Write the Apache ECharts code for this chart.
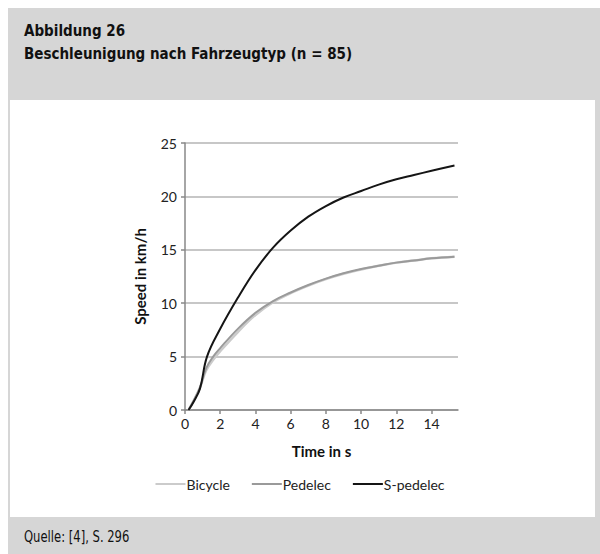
<!DOCTYPE html>
<html>
<head>
<meta charset="utf-8">
<script src="https://cdn.jsdelivr.net/npm/echarts@6/dist/echarts.min.js"></script>
<style>
  html, body { margin: 0; padding: 0; background: #fff; }
  #main { width: 600px; height: 554px; }
</style>
</head>
<body>
<div id="main"></div>
<script>
// Zeitpunkte (s) und Geschwindigkeiten (km/h)
var timeSlow = [0.2, 0.5, 0.85, 1.2, 1.6, 2, 3, 4, 5, 6, 7, 8, 9, 10, 11, 12, 13, 14, 15.3];
var bicycle  = [0, 0.9, 2.1, 3.7, 4.7, 5.5, 7.3, 8.9, 10.1, 10.95, 11.65, 12.25, 12.75, 13.15, 13.5, 13.8, 14.0, 14.2, 14.35];
var pedelec  = [0, 0.9, 2.1, 3.9, 5.0, 5.8, 7.6, 9.1, 10.2, 11.0, 11.7, 12.3, 12.8, 13.2, 13.5, 13.8, 14.0, 14.2, 14.35];
var timeFast = [0.2, 0.5, 0.85, 1.25, 2, 3, 4, 5, 6, 7, 8, 9, 10, 11, 12, 13, 14, 15.3];
var sPedelec = [0, 0.8, 2.0, 5.0, 7.6, 10.5, 13.1, 15.2, 16.8, 18.1, 19.1, 19.9, 20.5, 21.1, 21.6, 22.0, 22.4, 22.9];
var seriesNames = ['Bicycle', 'Pedelec', 'S-pedelec'];

function pairs(t, v) {
  var out = [];
  for (var i = 0; i < t.length; i++) out.push([t[i], v[i]]);
  return out;
}

var headFont = '"DejaVu Sans Condensed", "DejaVu Sans", sans-serif';
var chartFont = 'Lato, "Open Sans", sans-serif';
var grey = '#d6d6d6';

// schmale Kopfzeilen: Schrift horizontal gestaucht
function headText(txt, y, size, weight, sx) {
  return {
    type: 'text', x: 24, y: y, scaleX: sx, originX: 0,
    style: { text: txt, font: weight + ' ' + size + 'px ' + headFont, fill: '#111' }
  };
}

var myChart = echarts.init(document.getElementById('main'), null, { renderer: 'svg' });

var option = {
  animation: false,
  backgroundColor: '#ffffff',
  textStyle: { fontFamily: chartFont },
  graphic: [
    // grauer Rahmen mit weissem Feld
    { type: 'rect', z: -10, shape: { x: 8, y: 8, width: 592, height: 546 }, style: { fill: grey } },
    { type: 'rect', z: -9, shape: { x: 10, y: 100, width: 585, height: 417 }, style: { fill: '#ffffff' } },
    headText('Abbildung 26', 22, 16.5, 'bold', 0.91),
    headText('Beschleunigung nach Fahrzeugtyp (n = 85)', 45, 16.5, 'bold', 0.91),
    headText('Quelle: [4], S. 296', 529, 15, 'normal', 0.86)
  ],
  legend: {
    data: seriesNames,
    bottom: 58,
    left: 'center',
    icon: 'rect',
    itemWidth: 30,
    itemHeight: 2,
    itemGap: 22,
    textStyle: { fontSize: 14, color: '#222', fontFamily: chartFont, padding: [0, 0, 0, -4] }
  },
  grid: { left: 185, top: 143, right: 142, bottom: 144 },
  xAxis: {
    type: 'value',
    min: 0,
    max: 15.5,
    interval: 2,
    name: 'Time in s',
    nameLocation: 'middle',
    nameGap: 33,
    nameTextStyle: { fontWeight: 'bold', fontSize: 15, color: '#111' },
    axisLine: { lineStyle: { color: '#888', width: 1.5 } },
    axisTick: { show: true, length: 4, lineStyle: { color: '#888', width: 1.5 } },
    axisLabel: {
      fontSize: 14, color: '#222', margin: 6,
      showMaxLabel: false,
      formatter: function (v) { return v % 2 === 0 ? String(v) : ''; }
    },
    splitLine: { show: false }
  },
  yAxis: {
    type: 'value',
    min: 0,
    max: 25,
    interval: 5,
    name: 'Speed in km/h',
    nameLocation: 'middle',
    nameGap: 38,
    nameRotate: 90,
    nameTextStyle: { fontWeight: 'bold', fontSize: 15, color: '#111' },
    axisLine: { show: true, lineStyle: { color: '#888', width: 1.5 } },
    axisTick: { show: true, length: 4, lineStyle: { color: '#888', width: 1.5 } },
    axisLabel: { fontSize: 14, color: '#222', margin: 8 },
    splitLine: { show: true, lineStyle: { color: '#b4b4b4', width: 1.5 } }
  },
  series: [
    {
      name: 'Bicycle', type: 'line', smooth: 0.4, symbol: 'none',
      data: pairs(timeSlow, bicycle),
      lineStyle: { color: '#cbcbcb', width: 2.5 }, itemStyle: { color: '#cbcbcb' }
    },
    {
      name: 'Pedelec', type: 'line', smooth: 0.4, symbol: 'none',
      data: pairs(timeSlow, pedelec),
      lineStyle: { color: '#9a9a9a', width: 2 }, itemStyle: { color: '#9a9a9a' }
    },
    {
      name: 'S-pedelec', type: 'line', smooth: 0.4, symbol: 'none',
      data: pairs(timeFast, sPedelec),
      lineStyle: { color: '#151515', width: 2 }, itemStyle: { color: '#151515' }
    }
  ]
};

myChart.setOption(option);
</script>
</body>
</html>
